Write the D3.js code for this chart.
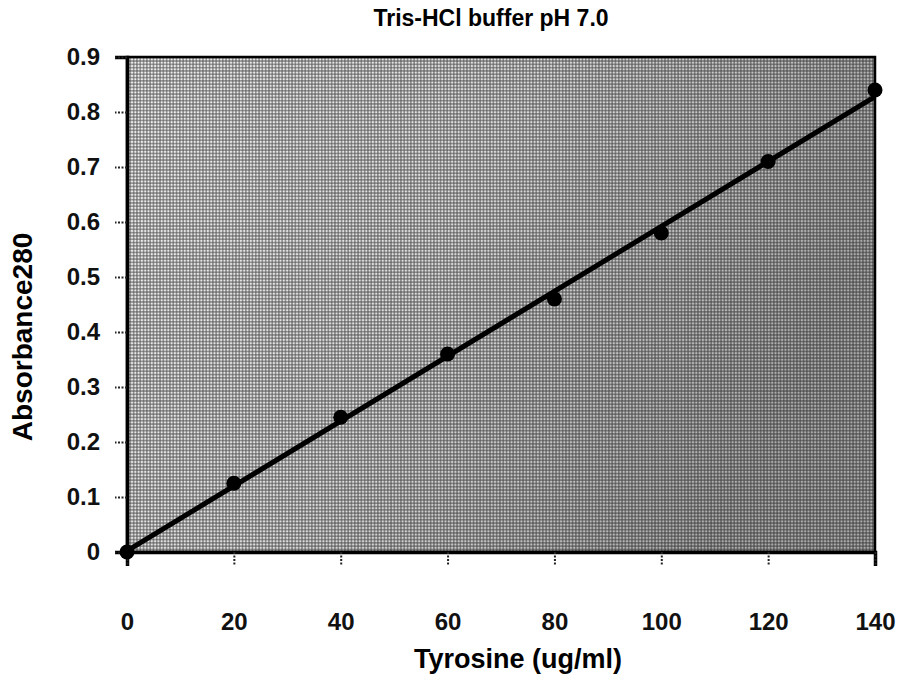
<!DOCTYPE html>
<html>
<head>
<meta charset="utf-8">
<script src="https://cdn.jsdelivr.net/npm/d3@7"></script>
<style>
  html, body { margin: 0; padding: 0; background: #fff; }
  svg { display: block; font-family: Arial, "Liberation Sans", sans-serif; }
</style>
</head>
<body>
<svg id="chart" width="899" height="681"></svg>
<script>
// ---- data ----
const tyrosine = [0, 20, 40, 60, 80, 100, 120, 140];
const absorbance = [0.0, 0.125, 0.245, 0.36, 0.46, 0.58, 0.71, 0.84];
const xTickValues = [0, 20, 40, 60, 80, 100, 120, 140];
const yTickValues = [0, 0.1, 0.2, 0.3, 0.4, 0.5, 0.6, 0.7, 0.8, 0.9];
const chartTitle = "Tris-HCl buffer pH 7.0";
const xTitle = "Tyrosine (ug/ml)";
const yTitle = "Absorbance280";

// ---- layout ----
const W = 899, H = 681;
const mLeft = 127, mRight = 875, mTop = 57, mBottom = 552;

const svg = d3.select("#chart");
svg.append("rect").attr("width", W).attr("height", H).attr("fill", "#fff");

const x = d3.scaleLinear().domain([0, 140]).range([mLeft, mRight]);
const y = d3.scaleLinear().domain([0, 0.9]).range([mBottom, mTop]);

// ---- textured plot background (scan-like mesh) ----
const defs = svg.append("defs");
const pat = defs.append("pattern").attr("id", "mesh")
  .attr("patternUnits", "userSpaceOnUse").attr("width", 3.3).attr("height", 3.3);
pat.append("rect").attr("width", 3.3).attr("height", 3.3).attr("fill", "#f6f6f6");
pat.append("rect").attr("x", 0).attr("y", 1.2).attr("width", 3.3).attr("height", 0.9).attr("fill", "#555");
pat.append("rect").attr("x", 1.2).attr("y", 0).attr("width", 0.9).attr("height", 3.3).attr("fill", "#555");

const grad = defs.append("linearGradient").attr("id", "shade")
  .attr("x1", "0").attr("y1", "0").attr("x2", "1").attr("y2", "0.35");
grad.append("stop").attr("offset", "0").attr("stop-color", "#000").attr("stop-opacity", 0.02);
grad.append("stop").attr("offset", "0.5").attr("stop-color", "#000").attr("stop-opacity", 0.1);
grad.append("stop").attr("offset", "1").attr("stop-color", "#000").attr("stop-opacity", 0.3);

svg.append("rect").attr("x", mLeft).attr("y", mTop)
  .attr("width", mRight - mLeft).attr("height", mBottom - mTop)
  .attr("fill", "url(#mesh)");
svg.append("rect").attr("x", mLeft).attr("y", mTop)
  .attr("width", mRight - mLeft).attr("height", mBottom - mTop)
  .attr("fill", "url(#shade)");

// frame
svg.append("rect").attr("x", mLeft).attr("y", mTop)
  .attr("width", mRight - mLeft).attr("height", mBottom - mTop)
  .attr("fill", "none").attr("stroke", "#000").attr("stroke-width", 2.5);

// ---- axes ----
const yAxis = d3.axisLeft(y).tickValues(yTickValues)
  .tickFormat(d => d === 0 ? "0" : d3.format(".1f")(d))
  .tickSize(12).tickPadding(15);
const gy = svg.append("g").attr("transform", `translate(${mLeft},0)`).call(yAxis);
gy.select(".domain").attr("stroke", "#000").attr("stroke-width", 3.5);
gy.selectAll(".tick line").attr("stroke", "#222").attr("stroke-width", 2).attr("stroke-dasharray", "2,1.5");
gy.selectAll(".tick text").attr("font-size", 24).attr("font-weight", "bold").attr("fill", "#111")
  .attr("font-family", "Arial, 'Liberation Sans', sans-serif");

const xAxis = d3.axisBottom(x).tickValues(xTickValues)
  .tickSize(14).tickPadding(47);
const gx = svg.append("g").attr("transform", `translate(0,${mBottom})`).call(xAxis);
gx.select(".domain").attr("stroke", "#000").attr("stroke-width", 3.5);
gx.selectAll(".tick line").attr("stroke", "#222").attr("stroke-width", 2).attr("stroke-dasharray", "2,1.5");
gx.selectAll(".tick text").attr("font-size", 24).attr("font-weight", "bold").attr("fill", "#111")
  .attr("font-family", "Arial, 'Liberation Sans', sans-serif");

// ---- fit line (least squares from the data) ----
const n = tyrosine.length;
const mx = d3.mean(tyrosine), my = d3.mean(absorbance);
let sxy = 0, sxx = 0;
for (let i = 0; i < n; i++) {
  sxy += (tyrosine[i] - mx) * (absorbance[i] - my);
  sxx += (tyrosine[i] - mx) ** 2;
}
const slope = sxy / sxx, intercept = my - slope * mx;
const xExtent = d3.extent(tyrosine);
const fit = xExtent.map(v => [v, intercept + slope * v]);

svg.append("path")
  .datum(fit)
  .attr("d", d3.line().x(d => x(d[0])).y(d => y(d[1])))
  .attr("fill", "none").attr("stroke", "#000").attr("stroke-width", 5);

// ---- points ----
svg.append("g").selectAll("circle")
  .data(tyrosine.map((t, i) => [t, absorbance[i]]))
  .join("circle")
  .attr("cx", d => x(d[0])).attr("cy", d => y(d[1]))
  .attr("r", 7.5).attr("fill", "#000");

// ---- titles ----
svg.append("text").attr("x", 491).attr("y", 26)
  .attr("text-anchor", "middle").attr("font-size", 23).attr("font-weight", "bold")
  .text(chartTitle);

svg.append("text").attr("x", 518).attr("y", 668)
  .attr("text-anchor", "middle").attr("font-size", 27).attr("font-weight", "bold")
  .text(xTitle);

svg.append("text")
  .attr("transform", `translate(32,337) rotate(-90)`)
  .attr("text-anchor", "middle").attr("font-size", 28).attr("font-weight", "bold")
  .text(yTitle);
</script>
</body>
</html>
